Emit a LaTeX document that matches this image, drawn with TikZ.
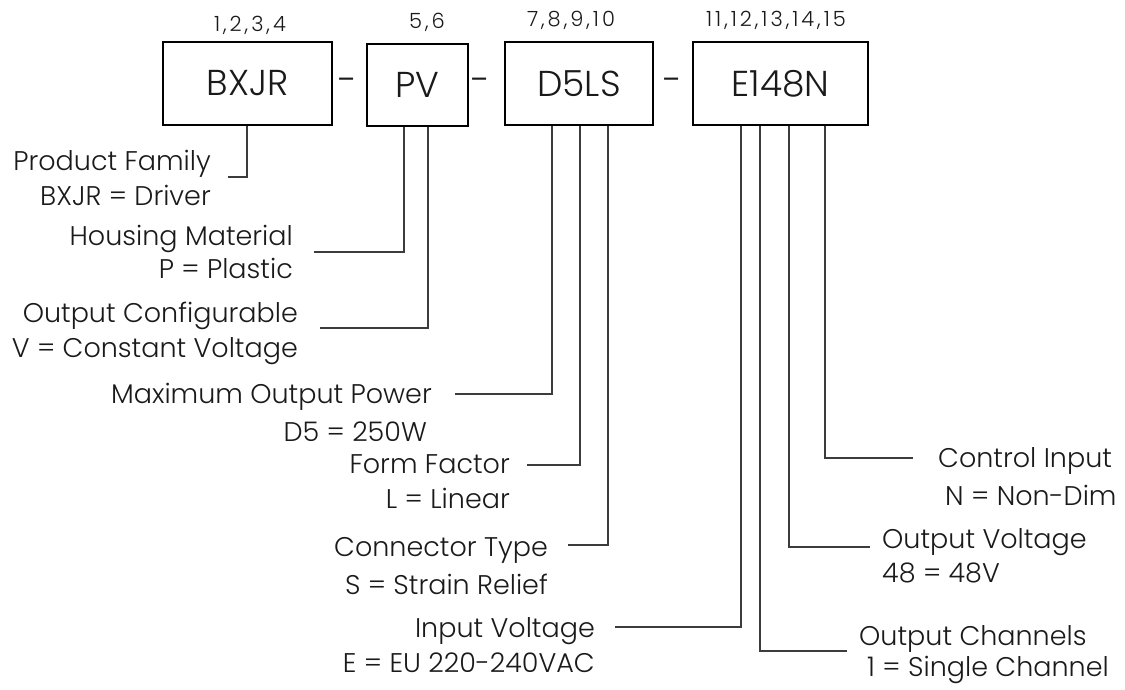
\documentclass[tikz,border=0pt]{standalone}
\usepackage{fontspec}
\setmainfont{Poppins}[UprightFont=* Light]
\usepackage{tikz}
\usetikzlibrary{positioning}
\definecolor{codeink}{RGB}{26,26,26}
\definecolor{leadgray}{RGB}{60,60,60}
\tikzset{
  partbox/.style={draw=black, line width=2pt, inner sep=0pt, font=\fontsize{36}{40}\selectfont, text=codeink},
  poslbl/.style={inner sep=0pt, anchor=base, font=\fontsize{21}{24}\selectfont\addfontfeatures{LetterSpace=14}, text=codeink},
  sepdash/.style={inner sep=0pt, font=\fontsize{36}{40}\selectfont, text=codeink},
  desc/.style={inner sep=0pt, font=\fontsize{27}{32}\selectfont, text=codeink},
  lead/.style={draw=leadgray, line width=1.2pt}
}

\begin{document}
\begin{tikzpicture}[x=1pt, y=-1pt]
\useasboundingbox (0,0) rectangle (1125,689);

% Code boxes
\node[partbox, minimum width=169, minimum height=83] (bxjr) at (247.5,83.5) {BXJR};
\node[partbox, minimum width=101, minimum height=82] (pv) at (417.5,85) {PV};
\node[partbox, minimum width=148, minimum height=83] (d5ls) at (579,83.5) {D5LS};
\node[partbox, minimum width=175, minimum height=83] (e148n) at (780.5,83.5) {E148N};

% Separators
\node[sepdash] (sep1) at (348,85) {-};
\node[sepdash] (sep2) at (481,85) {-};
\node[sepdash] (sep3) at (673,85) {-};

% Position numbers
\node[poslbl] (pos1) at (250,31) {1,2,3,4};
\node[poslbl] (pos2) at (427,28) {5,6};
\node[poslbl] (pos3) at (571,26) {7,8,9,10};
\node[poslbl] (pos4) at (776,26) {11,12,13,14,15};

% Left descriptions
\node[desc, anchor=base east] (fam) at (211,170) {Product Family};
\node[desc, anchor=base east] (famval) at (211,205) {BXJR = Driver};
\node[desc, anchor=base east] (hous) at (293,245) {Housing Material};
\node[desc, anchor=base east] (housval) at (293,278) {P = Plastic};
\node[desc, anchor=base east] (outc) at (298,322) {Output Configurable};
\node[desc, anchor=base east] (outcval) at (298,357) {V = Constant Voltage};
\node[desc, anchor=base east] (maxp) at (432,403) {Maximum Output Power};
\node[desc, anchor=base east] (maxpval) at (427,441) {D5 = 250W};
\node[desc, anchor=base east] (form) at (510,473) {Form Factor};
\node[desc, anchor=base east] (formval) at (510,508) {L = Linear};
\node[desc, anchor=base east] (conn) at (548,556) {Connector Type};
\node[desc, anchor=base east] (connval) at (548,594) {S = Strain Relief};
\node[desc, anchor=base east] (inv) at (595,637) {Input Voltage};
\node[desc, anchor=base east] (invval) at (595,672) {E = EU 220-240VAC};

% Right descriptions
\node[desc, anchor=base west] (ctrl) at (938,467) {Control Input};
\node[desc, anchor=base west] (ctrlval) at (945,505) {N = Non-Dim};
\node[desc, anchor=base west] (outv) at (882,548) {Output Voltage};
\node[desc, anchor=base west] (outvval) at (882,582) {48 = 48V};
\node[desc, anchor=base west] (chan) at (859,645) {Output Channels};
\node[desc, anchor=base west] (chanval) at (867,676) {1 = Single Channel};

% Leader lines
\foreach \bx/\tx/\ex/\ey/\n in {bxjr/247/228/177/fam, pv/404/314/252/hous, pv/428/320/328/outc,
    d5ls/552/455/394/maxp, d5ls/580/527/465/form, d5ls/608/568/545/conn,
    e148n/741/615/627/inv, e148n/760/847/651/chan, e148n/789/870/547/outv, e148n/825/913/458/ctrl}{
  \coordinate (\n-end) at (\ex,\ey);
  \draw[lead] (\bx.south -| \tx,0) |- (\n-end);
}
\end{tikzpicture}
\end{document}
